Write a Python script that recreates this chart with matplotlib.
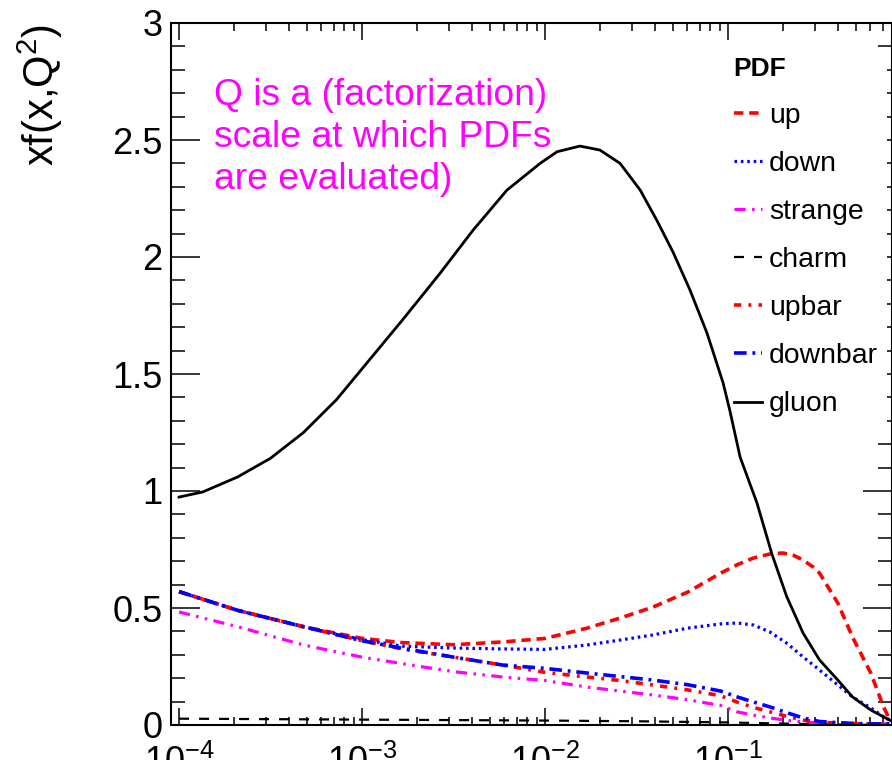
import numpy as np
import matplotlib.pyplot as plt
from matplotlib.ticker import MultipleLocator, LogLocator, NullFormatter

plt.rcParams["font.family"] = ["Liberation Sans", "DejaVu Sans"]
plt.rcParams["mathtext.default"] = "regular"

# values, x given as log10(x)
lx_gluon = [-4.0, -3.87, -3.68, -3.50, -3.32, -3.14, -2.96, -2.78, -2.574, -2.393, -2.208,
            -2.027, -1.934, -1.809, -1.70, -1.59, -1.48, -1.39, -1.30, -1.208, -1.115,
            -1.027, -0.989, -0.934, -0.842, -0.76, -0.68, -0.59, -0.50, -0.40, -0.32,
            -0.22, -0.115]
gluon = [0.974, 0.996, 1.06, 1.14, 1.25, 1.39, 1.56, 1.73, 1.93, 2.115, 2.286,
         2.40, 2.45, 2.474, 2.457, 2.40, 2.286, 2.158, 2.02, 1.859, 1.675,
         1.462, 1.34, 1.145, 0.949, 0.73, 0.55, 0.393, 0.278, 0.192, 0.12,
         0.064, 0.02]

lx_up = [-4.0, -3.68, -3.32, -3.0, -2.78, -2.5, -2.23, -2.0, -1.77, -1.59, -1.41, -1.22,
         -1.04, -0.95, -0.86, -0.77, -0.70, -0.645, -0.59, -0.535, -0.50, -0.454, -0.40,
         -0.32, -0.22, -0.15, -0.115]
up = [0.57, 0.49, 0.42, 0.37, 0.352, 0.343, 0.355, 0.37, 0.414, 0.457, 0.504, 0.568,
      0.649, 0.685, 0.714, 0.731, 0.735, 0.726, 0.705, 0.675, 0.649, 0.59, 0.521,
      0.376, 0.222, 0.077, 0.02]

lx_q = [-4.0, -3.68, -3.32, -3.0, -2.78, -2.5, -2.23, -2.0, -1.77, -1.59, -1.41, -1.22,
        -1.04, -0.95, -0.86, -0.77, -0.68, -0.59, -0.50, -0.40, -0.32, -0.22, -0.15, -0.115]
down = [0.57, 0.49, 0.42, 0.365, 0.337, 0.329, 0.325, 0.323, 0.342, 0.363, 0.385, 0.414,
        0.432, 0.436, 0.427, 0.397, 0.35, 0.291, 0.235, 0.171, 0.12, 0.073, 0.035, 0.021]
upbar = [0.57, 0.49, 0.42, 0.36, 0.325, 0.29, 0.256, 0.225, 0.205, 0.19, 0.171, 0.15,
         0.125, 0.098, 0.075, 0.056, 0.037, 0.021, 0.012, 0.008, 0.006, 0.005, 0.004, 0.004]
downbar = [0.57, 0.49, 0.42, 0.36, 0.328, 0.29, 0.256, 0.242, 0.222, 0.207, 0.192, 0.172,
           0.145, 0.12, 0.098, 0.077, 0.053, 0.03, 0.015, 0.01, 0.007, 0.005, 0.005, 0.005]
strange = [0.483, 0.42, 0.342, 0.29, 0.262, 0.228, 0.205, 0.19, 0.162, 0.145, 0.128, 0.108,
           0.083, 0.056, 0.042, 0.03, 0.02, 0.013, 0.009, 0.008, 0.006, 0.005, 0.005, 0.005]

lx_charm = [-4.0, -3.0, -2.0, -1.5, -1.0, -0.7, -0.4, -0.115]
charm = [0.027, 0.023, 0.019, 0.016, 0.011, 0.006, 0.002, 0.0]

note = "Q is a (factorization)\nscale at which PDFs\nare evaluated)"

fig = plt.figure(figsize=(8.92, 7.6), dpi=100)
ax = fig.add_axes([171 / 892, 35 / 760, 721 / 892, 702 / 760])

xg = 10 ** np.array(lx_gluon)
xu = 10 ** np.array(lx_up)
xq = 10 ** np.array(lx_q)
xc = 10 ** np.array(lx_charm)

ax.plot(xu, up, color="#ff0000", lw=2.6, ls=(0, (2.6, 1.6)), label="up")
ax.plot(xq, down, color="#0000ff", lw=2.3, ls=(0, (0.8, 1.2)), label="down")
ax.plot(xq, strange, color="#ff00ff", lw=2.3, ls=(0, (3.5, 2.0, 0.8, 2.0, 0.8, 2.0)), label="strange")
ax.plot(xc, charm, color="black", lw=1.6, ls=(0, (4.5, 4.5)), label="charm")
ax.plot(xq, upbar, color="#ff0000", lw=2.6, ls=(0, (2.0, 2.0, 0.8, 2.0)), label="upbar")
ax.plot(xq, downbar, color="#0000ff", lw=2.6, ls=(0, (3.5, 1.6, 0.8, 1.6)), label="downbar")
# gluon sits above the legend box so the box does not hide it
ax.plot(xg, gluon, color="black", lw=2.0, label="gluon", zorder=6)

ax.set_xscale("log")
ax.set_xlim(10 ** -4.044, 10 ** -0.104)
ax.set_ylim(0, 3)
ax.yaxis.set_major_locator(MultipleLocator(0.5))
ax.yaxis.set_minor_locator(MultipleLocator(0.1))
ax.yaxis.set_major_formatter(plt.FuncFormatter(lambda v, p: f"{v:g}"))
ax.xaxis.set_minor_locator(LogLocator(base=10, subs=np.arange(2, 10), numticks=20))
ax.xaxis.set_minor_formatter(NullFormatter())

for s in ax.spines.values():
    s.set_linewidth(1.5)
ax.tick_params(axis="y", which="major", direction="in", length=21, width=1.1,
               left=True, right=True, labelsize=26, pad=6)
ax.tick_params(axis="y", which="minor", direction="in", length=10, width=1.1,
               left=True, right=True)
ax.tick_params(axis="x", which="major", direction="in", length=12, width=1.1,
               bottom=True, top=True, labelsize=26, pad=14)
ax.tick_params(axis="x", which="minor", direction="in", length=6, width=1.1,
               bottom=True, top=True)

fig.text(40 / 892, 1 - 24 / 760, "xf(x,Q$^2$)", rotation=90, ha="center", va="top",
         fontsize=30)

ax.text(0.06, 0.922, note, transform=ax.transAxes, color="#ff00ff", fontsize=26.8,
        ha="left", va="top", linespacing=1.27)

leg = ax.legend(loc="upper left", bbox_to_anchor=(0.7685, 0.964), fontsize=20.4,
                title="PDF", title_fontproperties={"weight": "bold", "size": 19},
                alignment="left", frameon=True, fancybox=False, borderpad=0.3,
                borderaxespad=0, handlelength=1.0, handletextpad=0.25,
                labelspacing=0.78)
leg.get_frame().set_facecolor("white")
leg.get_frame().set_edgecolor("none")
leg.get_frame().set_alpha(1)

fig.savefig("out.png", dpi=100)
